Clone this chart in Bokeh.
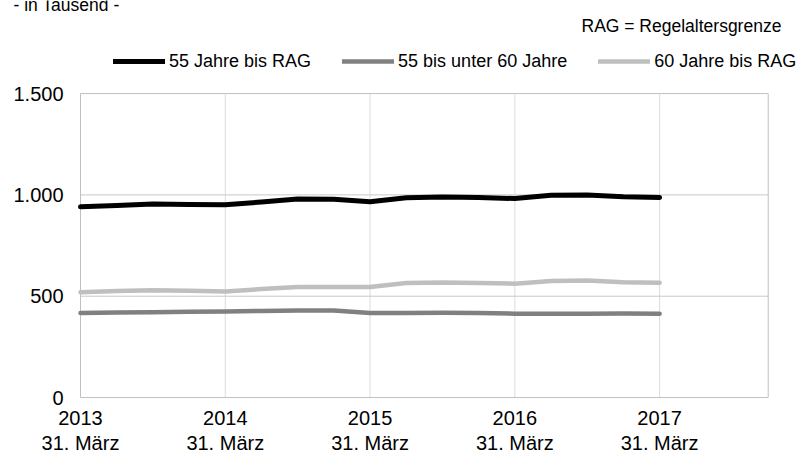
from bokeh.plotting import figure
from bokeh.models import Range1d, FixedTicker, Legend, LegendItem, Label
from bokeh.core.properties import value
from bokeh.embed import file_html
from bokeh.resources import INLINE

# quarterly reference dates (year fractions), 31 March 2013 .. 31 March 2017
dates = [2013.0, 2013.25, 2013.5, 2013.75, 2014.0, 2014.25, 2014.5, 2014.75,
         2015.0, 2015.25, 2015.5, 2015.75, 2016.0, 2016.25, 2016.5, 2016.75, 2017.0]
s55_rag = [941, 948, 955, 953, 951, 965, 980, 978, 966, 986, 990, 987, 982, 998, 1000, 991, 987]
s55_60 = [417, 419, 421, 423, 425, 427, 429, 430, 417, 417, 418, 417, 414, 414, 414, 415, 413]
s60_rag = [520, 526, 530, 527, 523, 535, 545, 545, 545, 565, 568, 565, 562, 575, 577, 569, 567]
series_names = ["55 Jahre bis RAG", "55 bis unter 60 Jahre", "60 Jahre bis RAG"]
x_ticks = [2013, 2014, 2015, 2016, 2017]
x_tick_labels = ["2013\n31. März", "2014\n31. März", "2015\n31. März", "2016\n31. März", "2017\n31. März"]
x_axis_start, x_axis_end = 2013.0, 2017.75
y_ticks = [0, 500, 1000, 1500]
y_tick_labels = ["0", "500", "1.000", "1.500"]
unit_note = "- in Tausend -"
abbr_note = "RAG = Regelaltersgrenze"

FONT = "Liberation Sans"
W, H = 801, 456
BOTTOM = 49                 # space for the two-line x labels
LEFT_PX = 80                # pixel position of the first category
PX_PER_YEAR = 144.78
TOP_PX = 93.3               # pixel position of the 1.500 line
ZERO_PX = 398               # pixel position of the 0 line
frame_h = H - BOTTOM
ppu = (ZERO_PX - TOP_PX) / y_ticks[-1]
x0 = x_axis_start - LEFT_PX / PX_PER_YEAR
x1 = x_axis_start + (W - LEFT_PX) / PX_PER_YEAR
y0 = -(frame_h - ZERO_PX) / ppu
y1 = y_ticks[-1] + TOP_PX / ppu

p = figure(width=W, height=H, output_backend="svg", toolbar_location=None,
           x_range=Range1d(x0, x1), y_range=Range1d(y0, y1), y_axis_location=None,
           min_border_left=0, min_border_right=0, min_border_top=0, min_border_bottom=BOTTOM)
p.background_fill_color = "white"
p.border_fill_color = "white"
p.outline_line_color = None
p.xgrid.visible = False
p.ygrid.visible = False

ax = p.xaxis[0]
ax.ticker = FixedTicker(ticks=x_ticks)
ax.major_label_overrides = {t: l for t, l in zip(x_ticks, x_tick_labels)}
ax.axis_line_color = None
ax.major_tick_line_color = None
ax.minor_tick_line_color = None
ax.major_tick_out = 0
ax.major_tick_in = 0
ax.major_label_text_font = FONT
ax.major_label_text_font_size = "20px"
ax.major_label_text_color = "black"
ax.major_label_standoff = 0
ax.major_label_text_line_height = 1.15

# plot-area grid and border
p.segment(x0=x_ticks[1:], y0=[y_ticks[0]] * (len(x_ticks) - 1),
          x1=x_ticks[1:], y1=[y_ticks[-1]] * (len(x_ticks) - 1), line_color="#dcdcdc", line_width=1)
p.segment(x0=[x_axis_start] * (len(y_ticks) - 2), y0=y_ticks[1:-1],
          x1=[x_axis_end] * (len(y_ticks) - 2), y1=y_ticks[1:-1], line_color="#c8c8c8", line_width=1)
p.segment(x0=[x_axis_start, x_axis_end, x_axis_start, x_axis_start],
          y0=[y_ticks[0], y_ticks[0], y_ticks[0], y_ticks[-1]],
          x1=[x_axis_start, x_axis_end, x_axis_end, x_axis_end],
          y1=[y_ticks[-1], y_ticks[-1], y_ticks[0], y_ticks[-1]], line_color="#c0c0c0", line_width=1)

# y tick labels
p.text(x=[x_axis_start] * len(y_ticks), y=y_ticks, text=y_tick_labels, x_offset=-17,
       text_align="right", text_baseline="middle", text_font=value(FONT),
       text_font_size="20px", text_color="black")

r1 = p.line(dates, s55_rag, line_color="#000000", line_width=5, line_join="round", line_cap="round")
r2 = p.line(dates, s55_60, line_color="#808080", line_width=4.5, line_join="round", line_cap="round")
r3 = p.line(dates, s60_rag, line_color="#bfbfbf", line_width=4.5, line_join="round", line_cap="round")

legend = Legend(items=[LegendItem(label=series_names[0], renderers=[r1]),
                       LegendItem(label=series_names[1], renderers=[r2]),
                       LegendItem(label=series_names[2], renderers=[r3])],
                orientation="horizontal", location=(113, frame_h - 72.5),
                label_text_font=FONT, label_text_font_size="18px", label_text_color="black",
                glyph_width=52, glyph_height=20, label_height=20, label_standoff=4, spacing=31,
                padding=0, margin=0, border_line_color=None, background_fill_alpha=0)
p.add_layout(legend, "center")

p.add_layout(Label(x=13, y=frame_h - 5, x_units="screen", y_units="screen", text=unit_note,
                   text_font=FONT, text_font_size="17.5px", text_color="black",
                   text_baseline="alphabetic"))
p.add_layout(Label(x=581, y=frame_h - 26, x_units="screen", y_units="screen", text=abbr_note,
                   text_font=FONT, text_font_size="17.5px", text_color="black",
                   text_baseline="alphabetic"))

open("out.html", "w").write(file_html(p, INLINE))
